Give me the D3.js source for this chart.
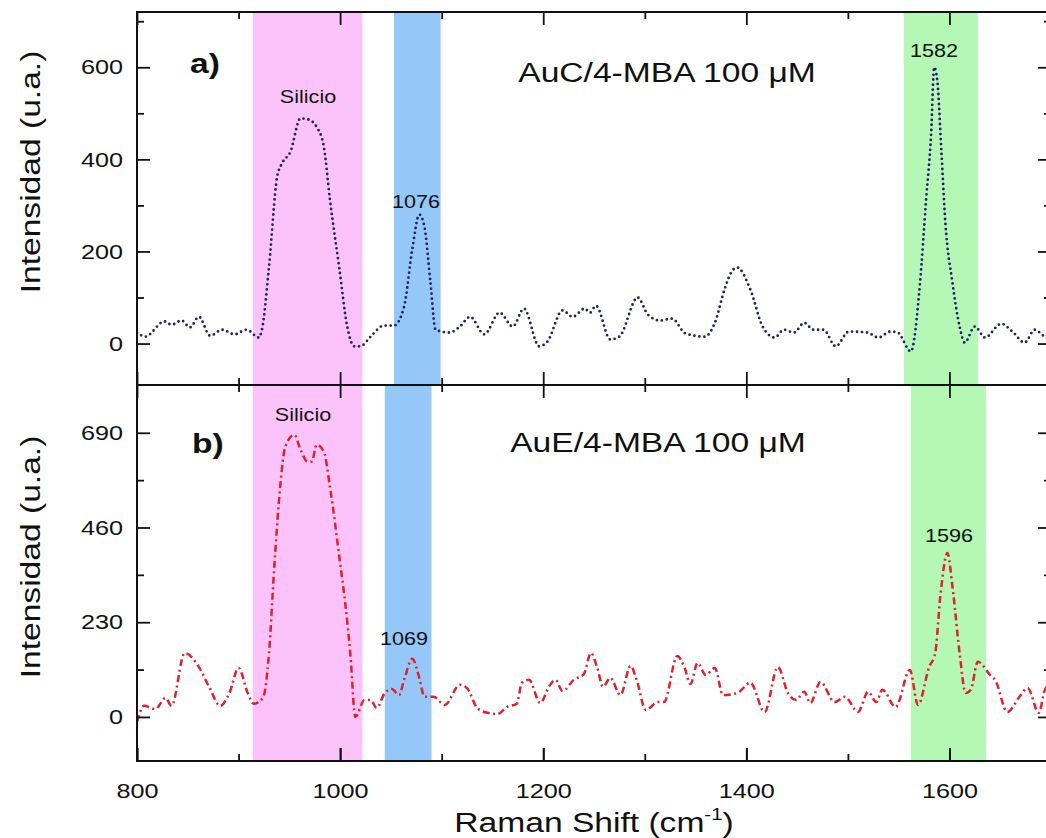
<!DOCTYPE html>
<html>
<head>
<meta charset="utf-8">
<script src="https://cdn.jsdelivr.net/npm/d3@7"></script>
<style>
  body { margin: 0; background: #fff; }
  text { font-family: "Liberation Sans", Arial, sans-serif; fill: #111; }
</style>
</head>
<body>
<div class="canvas"></div>
<script>
// ---- data (Raman shift in cm-1, intensity in u.a.) ----
const shiftA = [800, 808, 827, 834, 844, 852, 861, 872, 884, 896, 908, 920, 923, 930, 938, 943, 951, 961, 968, 977, 984, 990, 999, 1007, 1014, 1020, 1030, 1043, 1053, 1063, 1071, 1078, 1083, 1089, 1094, 1108, 1118, 1128, 1142, 1157, 1170, 1181, 1196, 1204, 1219, 1229, 1241, 1246, 1252, 1266, 1275, 1293, 1303, 1315, 1327, 1340, 1359, 1369, 1379, 1385, 1391, 1404, 1416, 1428, 1437, 1447, 1457, 1466, 1476, 1488, 1501, 1519, 1530, 1542, 1549, 1562, 1571, 1577, 1582, 1585, 1588, 1592, 1596, 1603, 1610, 1615, 1625, 1635, 1651, 1662, 1674, 1684, 1694, 1700];
const intensityA = [24, 15, 48, 41, 50, 35, 58, 17, 30, 20, 30, 13, 30, 167, 362, 392, 416, 489, 487, 470, 427, 312, 167, 37, -6, -6, 15, 39, 39, 80, 204, 280, 254, 132, 30, 24, 37, 58, 20, 67, 37, 76, -6, 4, 72, 58, 76, 67, 82, 9, 15, 100, 63, 50, 54, 22, 15, 45, 121, 154, 165, 117, 37, 13, 30, 24, 45, 30, 30, -6, 26, 24, 13, 26, 24, -17, 131, 312, 457, 600, 572, 420, 262, 132, 37, 2, 37, 13, 43, 26, 2, 30, 15, 12];

const shiftB = [800, 807, 818, 828, 834, 847, 861, 871, 882, 891, 900, 909, 915, 924, 930, 935, 941, 946, 955, 961, 968, 972, 977, 984, 990, 1000, 1005, 1010, 1015, 1024, 1030, 1036, 1044, 1051, 1058, 1063, 1071, 1078, 1083, 1092, 1103, 1118, 1125, 1135, 1145, 1155, 1164, 1174, 1179, 1186, 1197, 1206, 1212, 1219, 1230, 1240, 1247, 1253, 1259, 1266, 1276, 1286, 1292, 1301, 1313, 1319, 1332, 1339, 1345, 1352, 1360, 1369, 1377, 1391, 1404, 1418, 1431, 1441, 1449, 1457, 1463, 1473, 1487, 1497, 1510, 1520, 1528, 1534, 1547, 1561, 1569, 1580, 1586, 1591, 1598, 1603, 1610, 1616, 1621, 1628, 1640, 1645, 1657, 1669, 1677, 1688, 1694, 1700];
const intensityB = [-12, 27, 19, 46, 27, 155, 121, 73, 27, 58, 119, 58, 32, 46, 155, 357, 559, 656, 685, 649, 620, 620, 661, 644, 559, 374, 277, 155, 0, 41, 41, 22, 58, 68, 53, 90, 141, 95, 49, 49, 29, 78, 70, 22, 10, 7, 24, 32, 83, 90, 34, 75, 90, 63, 90, 104, 155, 121, 73, 95, 53, 124, 90, 17, 36, 36, 148, 121, 80, 131, 102, 119, 53, 58, 83, 12, 121, 58, 41, 61, 34, 85, 36, 49, 12, 61, 36, 66, 24, 114, 29, 121, 155, 292, 398, 316, 155, 58, 66, 134, 102, 90, 12, 49, 70, 10, 66, 80];

// shaded regions [from, to] in cm-1
const bandsA = [[914, 1022], [1053, 1099], [1555, 1628]];
const bandsB = [[914, 1022], [1044, 1090], [1562, 1636]];
const bandColors = ['#fcc3fa', '#95c7f8', '#b5f7b5'];

const yTicksA = [0, 200, 400, 600];
const yMinorA = [100, 300, 500, 700];
const yTicksB = [0, 230, 460, 690];
const yMinorB = [115, 345, 575];
const xTicks = [800, 1000, 1200, 1400, 1600];
const xMinor = [900, 1100, 1300, 1500, 1700];

// ---- layout ----
const W = 1046, H = 838;
const stretch = 1.2;   // the figure's lettering is wider than Liberation Sans

const svg = d3.select('.canvas')
  .append('svg')
    .attr('width', W)
    .attr('height', H);

const x = d3.scaleLinear().domain([800, 1700]).range([137, 1051]);

const panels = [
  {
    id: 'a', top: 12, bottom: 385, domain: [-90, 720],
    xs: shiftA, ys: intensityA, bands: bandsA,
    major: yTicksA, minor: yMinorA,
    stroke: '#1f1f6c', dash: '0,5', width: 2.8, cap: 'round',
    title: 'AuC/4-MBA 100 \u03bcM', titleX: 667, titleY: 82,
    letter: 'a)', letterX: 190, letterY: 73, ylabY: 172,
    notes: [['Silicio', 308, 103], ['1076', 416, 208], ['1582', 934, 57]]
  },
  {
    id: 'b', top: 385, bottom: 761, domain: [-107, 806],
    xs: shiftB, ys: intensityB, bands: bandsB,
    major: yTicksB, minor: yMinorB,
    stroke: '#e0202a', dash: '7,3.5,2,3.5', width: 2.5, cap: 'butt',
    title: 'AuE/4-MBA 100 \u03bcM', titleX: 658, titleY: 452,
    letter: 'b)', letterX: 192, letterY: 453, ylabY: 557,
    notes: [['Silicio', 303, 421], ['1069', 404, 645], ['1596', 949, 542]]
  }
];

// text drawn wider through a horizontal scale
const label = (g, txt, px, py, size, anchor, rot = 0) => g.append('text')
  .attr('transform', `translate(${px},${py}) rotate(${rot}) scale(${stretch},1)`)
  .attr('text-anchor', anchor)
  .attr('font-size', size)
  .text(txt);

panels.forEach((p, idx) => {
  const y = d3.scaleLinear().domain(p.domain).range([p.bottom, p.top]);
  const g = svg.append('g');

  // clip to the panel box
  g.append('clipPath').attr('id', 'clip-' + p.id)
    .append('rect')
      .attr('x', x.range()[0]).attr('y', p.top)
      .attr('width', x.range()[1] - x.range()[0])
      .attr('height', p.bottom - p.top);

  // shaded bands
  g.selectAll('rect.band')
    .data(p.bands)
    .enter().append('rect')
      .attr('class', 'band')
      .attr('x', d => x(d[0]))
      .attr('width', d => x(d[1]) - x(d[0]))
      .attr('y', p.top)
      .attr('height', p.bottom - p.top)
      .attr('fill', (d, i) => bandColors[i]);

  // spectrum
  const line = d3.line()
    .x(d => x(d[0]))
    .y(d => y(d[1]))
    .curve(d3.curveMonotoneX);

  g.append('path')
    .datum(d3.zip(p.xs, p.ys))
    .attr('clip-path', `url(#clip-${p.id})`)
    .attr('fill', 'none')
    .attr('stroke', p.stroke)
    .attr('stroke-width', p.width)
    .attr('stroke-linecap', p.cap)
    .attr('stroke-dasharray', p.dash)
    .attr('d', line);

  // ticks on all four sides, pointing inward
  const tickGroup = (axis, tx, ty) => {
    const a = g.append('g')
      .attr('transform', `translate(${tx},${ty})`)
      .call(axis);
    a.select('.domain').remove();
    a.selectAll('line').attr('stroke', '#111').attr('stroke-width', 1.8);
    return a;
  };

  const xr = x.range();
  tickGroup(d3.axisBottom(x).tickValues(xTicks).tickSize(-13).tickFormat(''), 0, p.bottom);
  tickGroup(d3.axisBottom(x).tickValues(xMinor).tickSize(-7).tickFormat(''), 0, p.bottom);
  tickGroup(d3.axisTop(x).tickValues(xTicks).tickSize(-13).tickFormat(''), 0, p.top);
  tickGroup(d3.axisTop(x).tickValues(xMinor).tickSize(-7).tickFormat(''), 0, p.top);
  tickGroup(d3.axisRight(y).tickValues(p.major).tickSize(-13).tickFormat(''), xr[1], 0);
  tickGroup(d3.axisRight(y).tickValues(p.minor).tickSize(-7).tickFormat(''), xr[1], 0);
  tickGroup(d3.axisLeft(y).tickValues(p.minor).tickSize(-7).tickFormat(''), xr[0], 0);

  const left = tickGroup(d3.axisLeft(y).tickValues(p.major).tickSize(-13).tickPadding(14)
    .tickFormat(d3.format('d')), xr[0], 0);
  left.selectAll('text')
    .attr('font-size', 21)
    .attr('fill', '#111')
    .attr('x', -14 / stretch)
    .attr('transform', `scale(${stretch},1)`);

  if (idx === panels.length - 1) {
    const bottom = tickGroup(d3.axisBottom(x).tickValues(xTicks).tickSize(-13).tickPadding(22)
      .tickFormat(d3.format('d')), 0, p.bottom);
    bottom.selectAll('text')
      .attr('font-size', 21)
      .attr('fill', '#111')
      .attr('transform', `scale(${stretch},1)`);
  }

  // frame
  g.append('rect')
    .attr('x', xr[0]).attr('y', p.top)
    .attr('width', xr[1] - xr[0]).attr('height', p.bottom - p.top)
    .attr('fill', 'none')
    .attr('stroke', '#111')
    .attr('stroke-width', 2);

  // texts
  label(g, p.title, p.titleX, p.titleY, 28, 'middle');
  label(g, p.letter, p.letterX, p.letterY, 28, 'start')
    .attr('font-family', '"Open Sans", "Liberation Sans", sans-serif')
    .attr('font-weight', 'bold')
    .attr('fill', '#222');
  p.notes.forEach(n => label(g, n[0], n[1], n[2], 18, 'middle'));
  label(g, 'Intensidad (u.a.)', 40, p.ylabY, 28, 'middle', -90);
});

// x axis title with superscript
const xt = svg.append('text')
  .attr('transform', `translate(594,832) scale(${stretch},1)`)
  .attr('text-anchor', 'middle')
  .attr('font-size', 28);
xt.append('tspan').text('Raman Shift (cm');
xt.append('tspan').attr('font-size', 17).attr('dy', -12).text('-1');
xt.append('tspan').attr('dy', 12).text(')');
</script>
</body>
</html>
